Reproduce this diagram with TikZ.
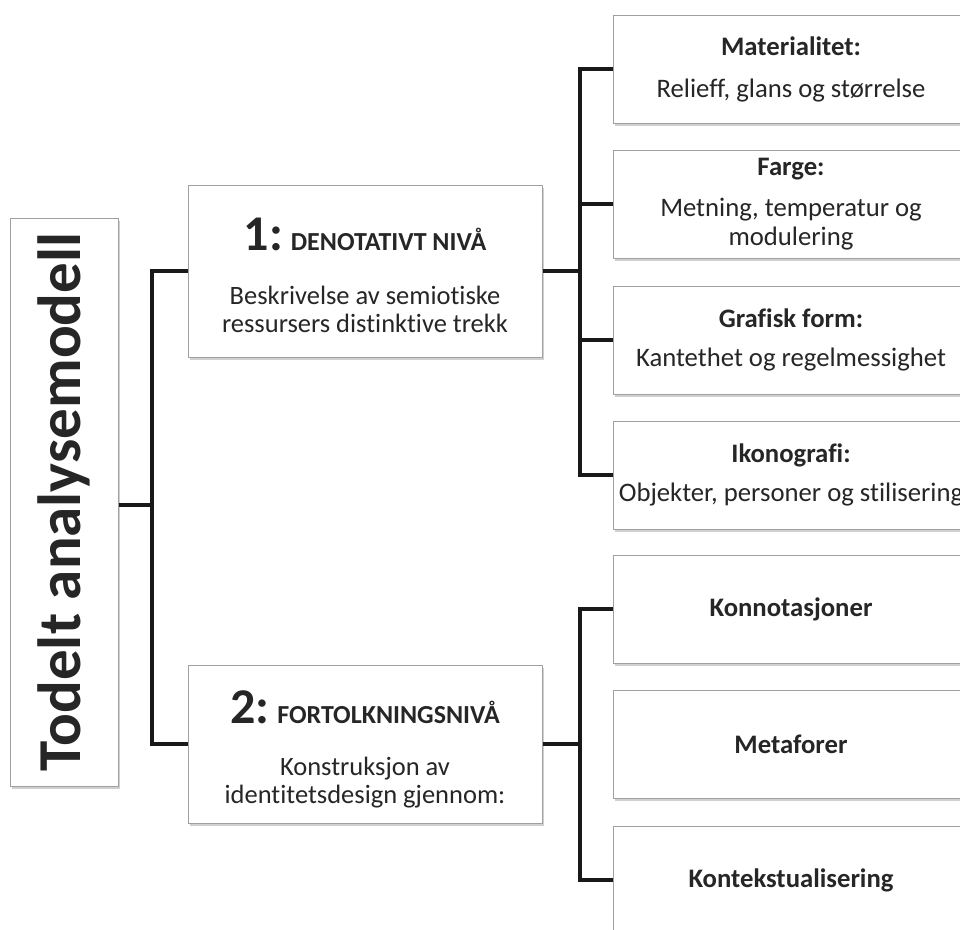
\documentclass[tikz,border=0pt]{standalone}
\usepackage{fontspec}
\setmainfont{Carlito}[Ligatures=NoCommon]
\usetikzlibrary{shadows}

\definecolor{textgray}{HTML}{262626}
\definecolor{framegray}{HTML}{A0A0A0}
\newcommand\fsz[2]{\fontsize{#1}{#2}\selectfont}

\tikzset{
  box/.style={draw=framegray, line width=1pt, fill=white, align=center,
    text=textgray, inner sep=0pt,
    drop shadow={shadow xshift=2pt, shadow yshift=-3pt, opacity=0.3, fill=black!60}},
  sidebox/.style={box, minimum width=356pt, minimum height=108pt, font=\fsz{26.7}{29}},
  levelbox/.style={box, minimum width=354pt, font=\fsz{26.5}{28}},
  conn/.style={line width=4.5pt, draw=black!90},
}

\begin{document}
\begin{tikzpicture}[x=1pt, y=-1pt]
  \path[use as bounding box, clip] (0,0) rectangle (960,929);
  \fill[white] (0,0) rectangle (960,929);

  % venstre: modellen
  \node[box, minimum width=108pt, minimum height=568pt] (root) at (64,502)
    {\rotatebox{90}{\fsz{61}{66}\bfseries Todelt analysemodell}};

  % de to nivaaene
  \node[levelbox, minimum height=172pt] (lvl1) at (365,271)
    {\rule{0pt}{42pt}{\fsz{50}{50}\bfseries 1:} {\fsz{26}{28}\bfseries DENOTATIVT NIVÅ}\\[26pt]
     Beskrivelse av semiotiske\\
     ressursers distinktive trekk};
  \node[levelbox, minimum height=158pt] (lvl2) at (365,744)
    {\rule{0pt}{44pt}{\fsz{50}{50}\bfseries 2:} {\fsz{26}{28}\bfseries FORTOLKNINGSNIVÅ}\\[24pt]
     Konstruksjon av\\
     identitetsdesign gjennom:};

  % nivaa 1
  \node[sidebox] (mat) at (791,69)  {\textbf{Materialitet:}\\[13pt] Relieff, glans og størrelse};
  \node[sidebox] (far) at (791,204) {\textbf{Farge:}\\[12pt] Metning, temperatur og\\ modulering};
  \node[sidebox] (gra) at (791,340) {\textbf{Grafisk form:}\\[10pt] Kantethet og regelmessighet};
  \node[sidebox] (iko) at (791,475) {\textbf{Ikonografi:}\\[10pt] Objekter, personer og stilisering};

  % nivaa 2
  \node[sidebox] (kon) at (791,609) {\textbf{Konnotasjoner}};
  \node[sidebox] (met) at (791,744) {\textbf{Metaforer}};
  \node[sidebox] (ktx) at (791,880) {\textbf{Kontekstualisering}};

  % forbindelser
  \coordinate (trunk) at (152,505);
  \coordinate (hubA) at (580,271);
  \coordinate (hubB) at (580,744);

  \draw[conn] (root.east |- trunk) -- (trunk);
  \draw[conn] (lvl1.west) -| (trunk) |- (lvl2.west);

  \draw[conn] (lvl1.east) -- (hubA);
  \draw[conn] (mat.west) -| (hubA) |- (iko.west);
  \draw[conn] (far.west) -- (far.west -| hubA);
  \draw[conn] (gra.west) -- (gra.west -| hubA);

  \draw[conn] (lvl2.east) -- (hubB);
  \draw[conn] (kon.west) -| (hubB) |- (ktx.west);
\end{tikzpicture}
\end{document}
